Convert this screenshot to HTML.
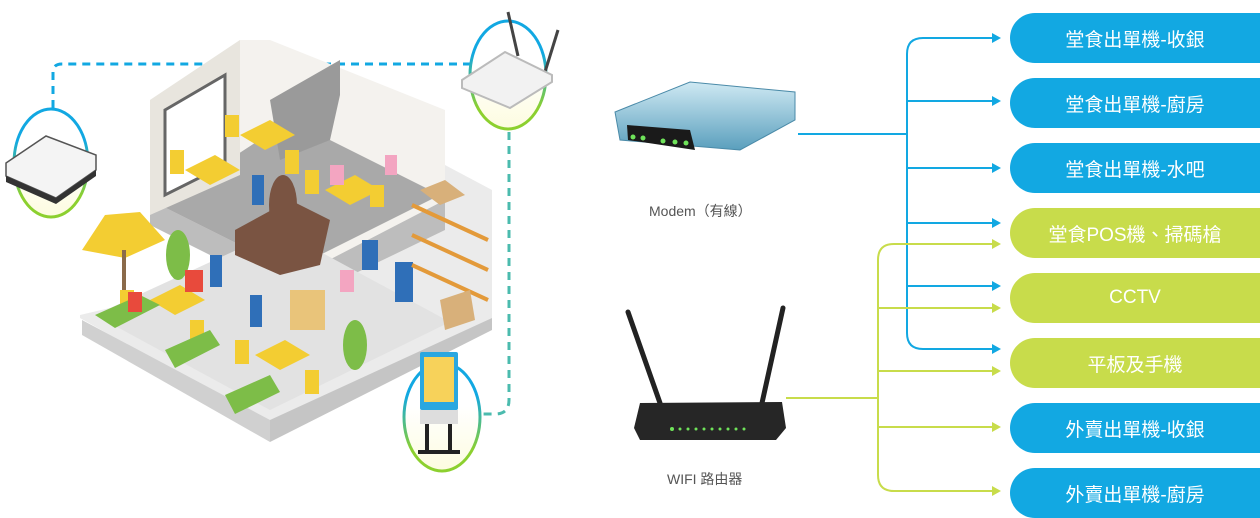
<!DOCTYPE html>
<html><head><meta charset="utf-8"><style>
html,body{margin:0;padding:0;background:#fff;}
body{width:1260px;height:518px;position:relative;overflow:hidden;font-family:"Liberation Sans","Noto Sans CJK TC",sans-serif;}
.pill{position:absolute;left:1010px;width:250px;height:50px;border-radius:25px 0 0 25px;color:#fff;font-size:19px;display:flex;align-items:center;justify-content:center;font-family:"Liberation Sans","Noto Sans CJK TC",sans-serif;padding-left:0;}
.b{background:#12a8e2;}.g{background:#c8dc4b;}
.lbl{position:absolute;color:#555;font-size:14px;font-family:"Liberation Sans","Noto Sans CJK TC",sans-serif;}
</style></head><body>
<svg width="1260" height="518" style="position:absolute;left:0;top:0">
<defs>
<linearGradient id="r1" gradientUnits="userSpaceOnUse" x1="0" y1="108" x2="0" y2="218"><stop offset="0.3" stop-color="#12a8e2"/><stop offset="0.8" stop-color="#8cd02f"/></linearGradient>
<linearGradient id="r2" gradientUnits="userSpaceOnUse" x1="0" y1="20" x2="0" y2="130"><stop offset="0.3" stop-color="#12a8e2"/><stop offset="0.8" stop-color="#8cd02f"/></linearGradient>
<linearGradient id="r3" gradientUnits="userSpaceOnUse" x1="0" y1="362" x2="0" y2="472"><stop offset="0.3" stop-color="#12a8e2"/><stop offset="0.8" stop-color="#8cd02f"/></linearGradient>
<linearGradient id="fill" x1="0" y1="0" x2="0" y2="1"><stop offset="0.4" stop-color="#fff"/><stop offset="1" stop-color="#fdfce0"/></linearGradient>
<linearGradient id="modem" x1="0" y1="0" x2="0" y2="1"><stop offset="0" stop-color="#cfe9f3"/><stop offset="1" stop-color="#5a9fbd"/></linearGradient>
</defs>
<path d="M53 108 V72 Q53 64 62 64 H220" fill="none" stroke="#12a8e2" stroke-width="3" stroke-dasharray="8 6"/>
<path d="M323 64 H470" fill="none" stroke="#12a8e2" stroke-width="3" stroke-dasharray="8 6"/>
<path d="M509 132 V400 Q509 414 495 414 H482" fill="none" stroke="#4bbbae" stroke-width="3" stroke-dasharray="8 6"/>
<polygon points="80,318 278,430 492,318 492,190 445,165 250,275 80,315" fill="#ebebeb"/>
<polygon points="150,200 150,100 240,40 270,40 445,110 445,230 300,300" fill="#f4f2ee"/>
<polygon points="150,200 300,275 445,200 445,230 300,300 150,225" fill="#bdbdbd"/>
<polygon points="160,205 290,270 440,195 290,120" fill="#a9a9a9"/>
<polygon points="150,100 240,40 240,175 150,215" fill="#e8e5de"/>
<polygon points="165,110 225,75 225,165 165,195" fill="#fff" stroke="#666" stroke-width="3"/>
<polygon points="270,100 340,60 340,95 330,140 280,160" fill="#9a9a9a"/>
<polygon points="82,320 270,420 270,442 82,335" fill="#d0d0d0"/>
<polygon points="270,420 492,318 492,330 270,442" fill="#c5c5c5"/>
<polygon points="95,315 270,410 450,322 280,230" fill="#e2e2e2"/>
<g fill="#f3cd32">
<polygon points="240,135 270,120 295,135 265,150"/><polygon points="185,170 215,155 240,170 210,185"/>
<polygon points="325,190 355,175 380,190 350,205"/><polygon points="150,300 180,285 205,300 175,315"/>
<polygon points="255,355 285,340 310,355 280,370"/>
<rect x="225" y="115" width="14" height="22"/><rect x="170" y="150" width="14" height="24"/><rect x="285" y="150" width="14" height="24"/>
<rect x="305" y="170" width="14" height="24"/><rect x="370" y="185" width="14" height="22"/><rect x="120" y="290" width="14" height="24"/>
<rect x="190" y="320" width="14" height="24"/><rect x="235" y="340" width="14" height="24"/><rect x="305" y="370" width="14" height="24"/>
<rect x="290" y="290" width="35" height="40" fill="#e9c47a"/>
</g>
<polygon points="82,250 105,215 140,212 165,240 125,258" fill="#f3cd32"/>
<rect x="122" y="250" width="4" height="40" fill="#8a6a4a"/>
<g fill="#7dbd48"><ellipse cx="178" cy="255" rx="12" ry="25"/><ellipse cx="355" cy="345" rx="12" ry="25"/>
<polygon points="95,315 140,295 160,305 115,328"/><polygon points="165,350 210,330 220,345 175,368"/><polygon points="225,395 270,375 280,392 235,414"/></g>
<polygon points="235,230 290,200 330,220 320,265 280,275 235,255" fill="#7a5442"/>
<ellipse cx="283" cy="205" rx="14" ry="30" fill="#7a5442"/>
<g fill="#2f6fb8"><rect x="252" y="175" width="12" height="30"/><rect x="210" y="255" width="12" height="32"/><rect x="250" y="295" width="12" height="32"/><rect x="395" y="262" width="18" height="40"/><rect x="362" y="240" width="16" height="30"/></g>
<g fill="#e84a3c"><rect x="128" y="292" width="14" height="20"/><rect x="185" y="270" width="18" height="22"/></g>
<g fill="#f3a5c1"><rect x="330" y="165" width="14" height="20"/><rect x="385" y="155" width="12" height="20"/><rect x="340" y="270" width="14" height="22"/></g>
<g stroke="#e39a3a" stroke-width="4"><line x1="412" y1="205" x2="488" y2="240"/><line x1="412" y1="235" x2="488" y2="270"/><line x1="412" y1="265" x2="488" y2="300"/></g>
<polygon points="420,190 445,180 465,195 440,205" fill="#d8b07a"/>
<polygon points="440,300 470,290 475,320 445,330" fill="#d8b07a"/>
<ellipse cx="51" cy="163" rx="37" ry="54" fill="url(#fill)" stroke="url(#r1)" stroke-width="3"/>
<polygon points="6,163 46,136 96,155 96,170 56,198 6,176" fill="#f4f4f4" stroke="#555" stroke-width="1.5"/>
<polygon points="6,176 56,198 96,170 96,176 56,204 6,182" fill="#333"/>
<ellipse cx="508" cy="75" rx="38" ry="54" fill="url(#fill)" stroke="url(#r2)" stroke-width="3"/>
<line x1="518" y1="56" x2="508" y2="12" stroke="#444" stroke-width="3"/><line x1="545" y1="72" x2="558" y2="30" stroke="#444" stroke-width="3"/>
<polygon points="462,80 505,52 552,75 552,82 510,108 462,88" fill="#f2f2f2" stroke="#bbb" stroke-width="2"/>
<ellipse cx="442" cy="417" rx="38" ry="54" fill="url(#fill)" stroke="url(#r3)" stroke-width="3"/>
<rect x="420" y="352" width="38" height="58" fill="#2aa7e0" rx="2"/>
<rect x="424" y="357" width="30" height="45" fill="#f7d25a"/>
<rect x="420" y="410" width="38" height="14" fill="#ddd"/>
<rect x="425" y="424" width="4" height="28" fill="#222"/><rect x="448" y="424" width="4" height="28" fill="#222"/><rect x="418" y="450" width="42" height="4" fill="#222"/>
<polygon points="615,112 690,82 795,92 795,120 740,150 620,140" fill="url(#modem)" stroke="#4a8aa8" stroke-width="1"/>
<polygon points="627,125 690,130 695,150 628,140" fill="#1a1a1a"/>
<g fill="#6fe35a"><circle cx="633" cy="137" r="2.5"/><circle cx="643" cy="138" r="2.5"/><circle cx="663" cy="141" r="2.5"/><circle cx="675" cy="142" r="2.5"/><circle cx="686" cy="143" r="2.5"/></g>
<line x1="628" y1="312" x2="660" y2="403" stroke="#222" stroke-width="5" stroke-linecap="round"/>
<line x1="783" y1="308" x2="762" y2="403" stroke="#222" stroke-width="5" stroke-linecap="round"/>
<polygon points="640,403 782,402 786,428 776,440 640,440 634,428" fill="#262626"/>
<g fill="#6fe35a"><circle cx="672" cy="429" r="2"/><circle cx="680" cy="429" r="1.5"/><circle cx="688" cy="429" r="1.5"/><circle cx="696" cy="429" r="1.5"/><circle cx="704" cy="429" r="1.5"/><circle cx="712" cy="429" r="1.5"/><circle cx="720" cy="429" r="1.5"/><circle cx="728" cy="429" r="1.5"/><circle cx="736" cy="429" r="1.5"/><circle cx="744" cy="429" r="1.5"/></g>
<g fill="none" stroke="#12a8e2" stroke-width="2">
<path d="M798 134 H907"/>
<path d="M993 38 H923 Q907 38 907 54 V333 Q907 349 923 349 H993"/>
<path d="M907 101 H993 M907 168 H993 M907 223 H993 M907 286 H993"/>
</g>
<g fill="#12a8e2">
<polygon points="1001,38 992,33 992,43"/><polygon points="1001,101 992,96 992,106"/><polygon points="1001,168 992,163 992,173"/>
<polygon points="1001,223 992,218 992,228"/><polygon points="1001,286 992,281 992,291"/><polygon points="1001,349 992,344 992,354"/>
</g>
<g fill="none" stroke="#c8dc4b" stroke-width="2">
<path d="M786 398 H878"/>
<path d="M993 244 H894 Q878 244 878 260 V475 Q878 491 894 491 H993"/>
<path d="M878 308 H993 M878 371 H993 M878 427 H993"/>
</g>
<g fill="#c8dc4b">
<polygon points="1001,244 992,239 992,249"/><polygon points="1001,308 992,303 992,313"/><polygon points="1001,371 992,366 992,376"/>
<polygon points="1001,427 992,422 992,432"/><polygon points="1001,491 992,486 992,496"/>
</g>
</svg>
<div class="lbl" style="left:649px;top:201px;">Modem（有線）</div>
<div class="lbl" style="left:667px;top:469px;">WIFI 路由器</div>
<div class="pill b" style="top:13px">堂食出單機-收銀</div>
<div class="pill b" style="top:78px">堂食出單機-廚房</div>
<div class="pill b" style="top:143px">堂食出單機-水吧</div>
<div class="pill g" style="top:208px">堂食POS機、掃碼槍</div>
<div class="pill g" style="top:273px">CCTV</div>
<div class="pill g" style="top:338px">平板及手機</div>
<div class="pill b" style="top:403px">外賣出單機-收銀</div>
<div class="pill b" style="top:468px">外賣出單機-廚房</div>
</body></html>
